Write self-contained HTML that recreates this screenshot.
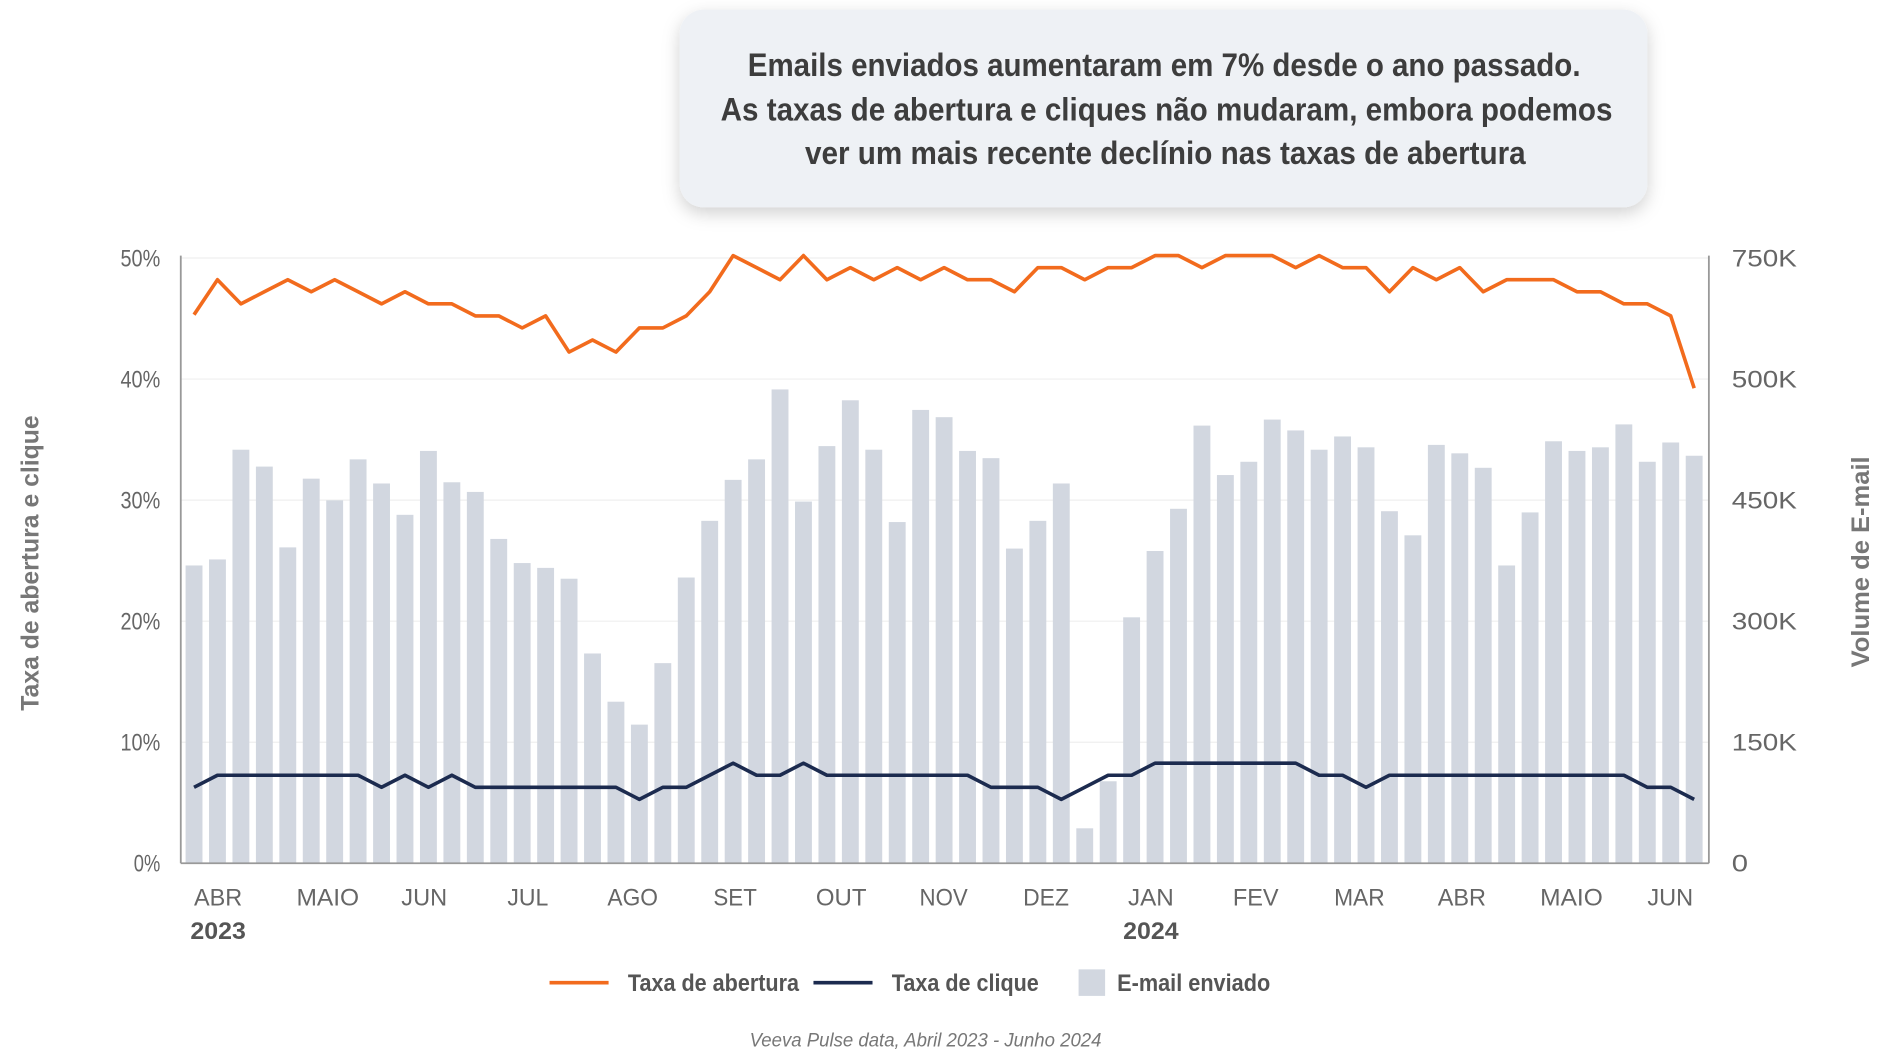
<!DOCTYPE html>
<html><head><meta charset="utf-8"><style>
html,body{margin:0;padding:0;background:#fff;width:1880px;height:1061px;overflow:hidden}
svg{display:block}
text{font-family:"Liberation Sans",sans-serif}
</style></head><body>
<svg id="s" width="1880" height="1061" viewBox="0 0 1560 880" preserveAspectRatio="none" xmlns="http://www.w3.org/2000/svg">
<defs><filter id="sh" x="-10%" y="-20%" width="120%" height="150%"><feDropShadow dx="0" dy="5" stdDeviation="7" flood-color="#000" flood-opacity="0.18"/></filter></defs>
<rect x="564" y="8" width="803" height="164" rx="20" fill="#eef1f5" filter="url(#sh)"/>
<g font-weight="bold" fill="#3d3d3d" font-size="27" text-anchor="middle">
<text x="966" y="63" textLength="691" lengthAdjust="spacingAndGlyphs">Emails enviados aumentaram em 7% desde o ano passado.</text>
<text x="968" y="100" textLength="740" lengthAdjust="spacingAndGlyphs">As taxas de abertura e cliques não mudaram, embora podemos</text>
<text x="967" y="136" textLength="598" lengthAdjust="spacingAndGlyphs">ver um mais recente declínio nas taxas de abertura</text>
</g>
<g id="grid" stroke="#efefef" stroke-width="1"></g>
<g id="bars" fill="#d2d7e0"></g>
<line x1="150" y1="212" x2="150" y2="716" stroke="#999" stroke-width="1.5"/>
<line x1="1418" y1="212" x2="1418" y2="716" stroke="#999" stroke-width="1.5"/>
<line x1="150" y1="716" x2="1418" y2="716" stroke="#999" stroke-width="1.5"/>
<polyline id="o" fill="none" stroke="#f26b1d" stroke-width="3" stroke-linejoin="round"/>
<polyline id="n" fill="none" stroke="#1c2b4f" stroke-width="3" stroke-linejoin="round"/>
<g fill="#666" font-size="20" id="ticks"></g>
<g fill="#666" font-size="20" text-anchor="middle">
<text x="181" y="751" textLength="40" lengthAdjust="spacingAndGlyphs">ABR</text>
<text x="272" y="751" textLength="52" lengthAdjust="spacingAndGlyphs">MAIO</text>
<text x="352" y="751" textLength="38" lengthAdjust="spacingAndGlyphs">JUN</text>
<text x="438" y="751" textLength="34" lengthAdjust="spacingAndGlyphs">JUL</text>
<text x="525" y="751" textLength="42" lengthAdjust="spacingAndGlyphs">AGO</text>
<text x="610" y="751" textLength="36" lengthAdjust="spacingAndGlyphs">SET</text>
<text x="698" y="751" textLength="42" lengthAdjust="spacingAndGlyphs">OUT</text>
<text x="783" y="751" textLength="40" lengthAdjust="spacingAndGlyphs">NOV</text>
<text x="868" y="751" textLength="38" lengthAdjust="spacingAndGlyphs">DEZ</text>
<text x="955" y="751" textLength="38" lengthAdjust="spacingAndGlyphs">JAN</text>
<text x="1042" y="751" textLength="38" lengthAdjust="spacingAndGlyphs">FEV</text>
<text x="1128" y="751" textLength="42" lengthAdjust="spacingAndGlyphs">MAR</text>
<text x="1213" y="751" textLength="40" lengthAdjust="spacingAndGlyphs">ABR</text>
<text x="1304" y="751" textLength="52" lengthAdjust="spacingAndGlyphs">MAIO</text>
<text x="1386" y="751" textLength="38" lengthAdjust="spacingAndGlyphs">JUN</text>
<text x="181" y="779" font-weight="bold" fill="#555" textLength="46" lengthAdjust="spacingAndGlyphs">2023</text>
<text x="955" y="779" font-weight="bold" fill="#555" textLength="46" lengthAdjust="spacingAndGlyphs">2024</text>
</g>
<text transform="translate(32,467) rotate(-90)" text-anchor="middle" font-size="21" font-weight="bold" fill="#777" textLength="245" lengthAdjust="spacingAndGlyphs">Taxa de abertura e clique</text>
<text transform="translate(1551,466) rotate(-90)" text-anchor="middle" font-size="21" font-weight="bold" fill="#777" textLength="175" lengthAdjust="spacingAndGlyphs">Volume de E-mail</text>
<line x1="456" y1="815" x2="505" y2="815" stroke="#f26b1d" stroke-width="3"/>
<line x1="675" y1="815" x2="724" y2="815" stroke="#1c2b4f" stroke-width="3"/>
<rect x="895" y="804" width="22" height="22" fill="#d2d7e0"/>
<g font-size="20" font-weight="bold" fill="#555">
<text x="521" y="822" textLength="142" lengthAdjust="spacingAndGlyphs">Taxa de abertura</text>
<text x="740" y="822" textLength="122" lengthAdjust="spacingAndGlyphs">Taxa de clique</text>
<text x="927" y="822" textLength="127" lengthAdjust="spacingAndGlyphs">E-mail enviado</text>
</g>
<text x="768" y="868" text-anchor="middle" font-size="16" font-style="italic" fill="#777" textLength="292" lengthAdjust="spacingAndGlyphs">Veeva Pulse data, Abril 2023 - Junho 2024</text>
</svg>
<script>
var NS="http://www.w3.org/2000/svg";
function el(t,a,p,txt){var e=document.createElementNS(NS,t);for(var k in a)e.setAttribute(k,a[k]);if(txt)e.textContent=txt;document.getElementById(p).appendChild(e);return e;}
var L=["0%","10%","20%","30%","40%","50%"],R=["0","150K","300K","450K","500K","750K"];
for(var i=0;i<6;i++){var y=716-i*100.4;
 if(i>0)el("line",{x1:150,x2:1418,y1:y,y2:y},"grid");
 el("text",{x:133,y:y+7,"text-anchor":"end",textLength:L[i].length*11,lengthAdjust:"spacingAndGlyphs"},"ticks",L[i]);
 el("text",{x:1437,y:y+7,textLength:R[i].length*13.5,lengthAdjust:"spacingAndGlyphs"},"ticks",R[i]);}
var B=[469,464,373,387,454,397,415,381,401,427,374,400,408,447,467,471,480,542,582,601,550,479,432,398,381,323,416,370,332,373,433,340,346,374,380,455,432,401,687,648,512,457,422,353,394,383,348,357,373,362,371,424,444,369,376,388,469,425,366,374,371,352,383,367,378];
var O=[261,232,252,242,232,242,232,242,252,242,252,252,262,262,272,262,292,282,292,272,272,262,242,212,222,232,212,232,222,232,222,232,222,232,232,242,222,222,232,222,222,212,212,222,212,212,212,222,212,222,222,242,222,232,222,242,232,232,232,242,242,252,252,262,322];
var N=[653,643,643,643,643,643,643,643,653,643,653,643,653,653,653,653,653,653,653,663,653,653,643,633,643,643,633,643,643,643,643,643,643,643,653,653,653,663,653,643,643,633,633,633,633,633,633,633,643,643,653,643,643,643,643,643,643,643,643,643,643,643,653,653,663];
var po="",pn="";
for(var i=0;i<65;i++){var x=161+i*19.45;
 el("rect",{x:x-7,y:B[i],width:14,height:716-B[i]},"bars");
 po+=x+","+O[i]+" ";pn+=x+","+N[i]+" ";}
document.getElementById("o").setAttribute("points",po);
document.getElementById("n").setAttribute("points",pn);
</script>
</body></html>
